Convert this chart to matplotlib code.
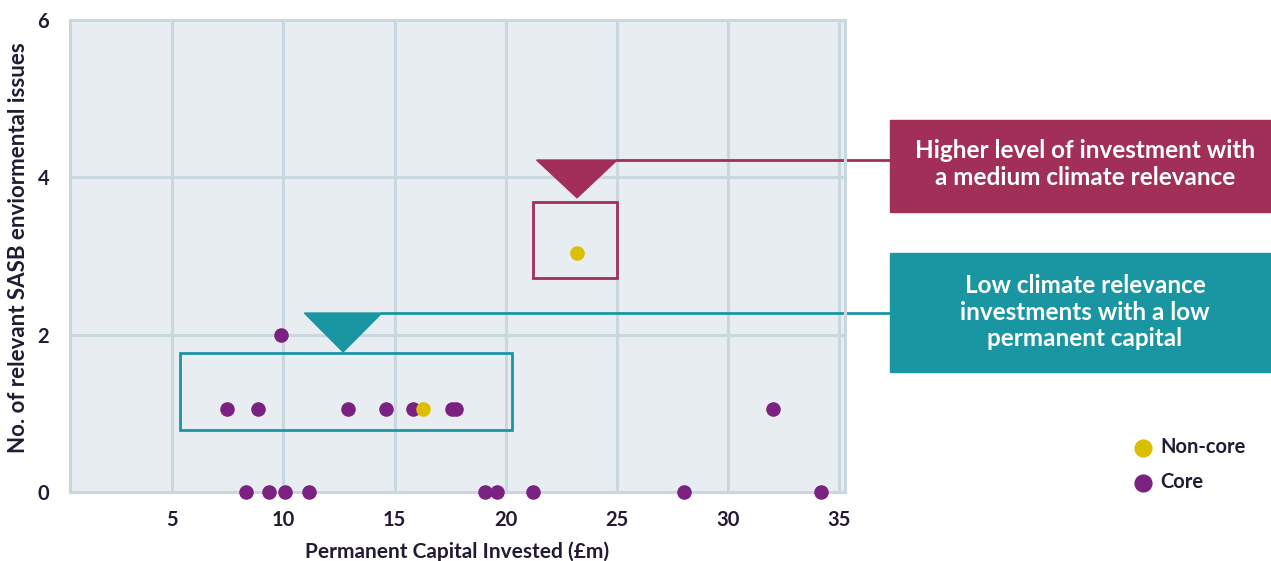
import matplotlib.pyplot as plt
from matplotlib.patches import Rectangle, Polygon

plt.rcParams['font.family'] = ['Lato', 'DejaVu Sans']

# data
core_x = [7.44, 8.86, 12.9, 14.6, 15.83, 17.6, 17.75, 9.9,
          8.31, 9.35, 10.07, 11.16, 19.07, 19.58, 21.2, 28.03, 34.17, 32.02]
core_y = [1.055, 1.055, 1.055, 1.055, 1.055, 1.055, 1.055, 2.0,
          0, 0, 0, 0, 0, 0, 0, 0, 0, 1.055]
noncore_x = [16.29, 23.2]
noncore_y = [1.055, 3.04]

x_ticks = [5, 10, 15, 20, 25, 30, 35]
y_ticks = [0, 2, 4, 6]

PURPLE = '#7b2181'
YELLOW = '#dcbf00'
MAGENTA = '#a12f57'
TEAL = '#1a96a3'
GRID = '#c9d7de'
BG = '#e8edf1'
TXT = '#231a33'

W, H = 1271, 561
fig = plt.figure(figsize=(W / 100, H / 100), dpi=100)
ax = fig.add_axes([70 / W, 1 - 492 / H, 775 / W, 472 / H])
ax.set_facecolor(BG)

xmin, xmax = 0.4, 35.25
ax.set_xlim(xmin, xmax)
ax.set_ylim(0, 6)
ax.set_xticks(x_ticks)
ax.set_yticks(y_ticks)
ax.grid(True, color=GRID, linewidth=2.2)
ax.set_axisbelow(True)
for s in ax.spines.values():
    s.set_color(GRID)
    s.set_linewidth(2.2)
ax.tick_params(length=0, labelsize=14.5, labelcolor=TXT)
ax.tick_params(axis='x', pad=13)
ax.tick_params(axis='y', pad=15)
for lab in ax.get_xticklabels() + ax.get_yticklabels():
    lab.set_fontweight('bold')

ax.set_xlabel('Permanent Capital Invested (£m)', fontsize=15, fontweight='bold',
              color=TXT, labelpad=8)
ax.set_ylabel('No. of relevant SASB enviormental issues', fontsize=16,
              fontweight='bold', color=TXT)
ax.yaxis.set_label_coords(-0.053, 0.518)

ax.scatter(noncore_x, noncore_y, s=110, color=YELLOW, zorder=4, label='Non-core',
           linewidths=0)
ax.scatter(core_x, core_y, s=110, color=PURPLE, zorder=3, label='Core',
           linewidths=0, clip_on=False)

# highlight boxes and pointers
ax.add_patch(Rectangle((21.24, 2.72), 25.0 - 21.24, 3.69 - 2.72, fill=False,
                       edgecolor=MAGENTA, linewidth=2, zorder=2))
ax.add_patch(Polygon([(21.38, 4.22), (25.0, 4.22), (23.2, 3.74)], closed=True,
                     color=MAGENTA, zorder=2))
ax.add_patch(Rectangle((5.34, 0.79), 20.28 - 5.34, 1.77 - 0.79, fill=False,
                       edgecolor=TEAL, linewidth=2, zorder=2))
ax.add_patch(Polygon([(10.94, 2.275), (14.42, 2.275), (12.68, 1.78)], closed=True,
                     color=TEAL, zorder=2))

x_box = xmin + (890 - 70) / 775 * (xmax - xmin)
ax.plot([25.0, x_box], [4.22, 4.22], color=MAGENTA, linewidth=2, clip_on=False, zorder=2)
ax.plot([14.42, x_box], [2.275, 2.275], color=TEAL, linewidth=2, clip_on=False, zorder=2)

fig.patches.append(Rectangle((890 / W, 1 - 212 / H), (W - 890) / W, 92 / H,
                             transform=fig.transFigure, color=MAGENTA))
fig.text(1085 / W, 1 - 164 / H, 'Higher level of investment with\na medium climate relevance',
         ha='center', va='center', color='white', fontsize=17.5, fontweight='bold',
         linespacing=1.2)
fig.patches.append(Rectangle((890 / W, 1 - 372 / H), (W - 890) / W, 119 / H,
                             transform=fig.transFigure, color=TEAL))
fig.text(1085 / W, 1 - 312 / H, 'Low climate relevance\ninvestments with a low\npermanent capital',
         ha='center', va='center', color='white', fontsize=17.5, fontweight='bold',
         linespacing=1.2)

fig.legend(loc='upper left', bbox_to_anchor=(1133 / W, 1 - 437 / H), frameon=False,
           labelcolor=TXT, handletextpad=0.35, labelspacing=0.75, handlelength=1,
           borderpad=0, borderaxespad=0, markerscale=1.25,
           prop={'weight': 'bold', 'size': 14.5})

fig.savefig('out.png', dpi=100)
